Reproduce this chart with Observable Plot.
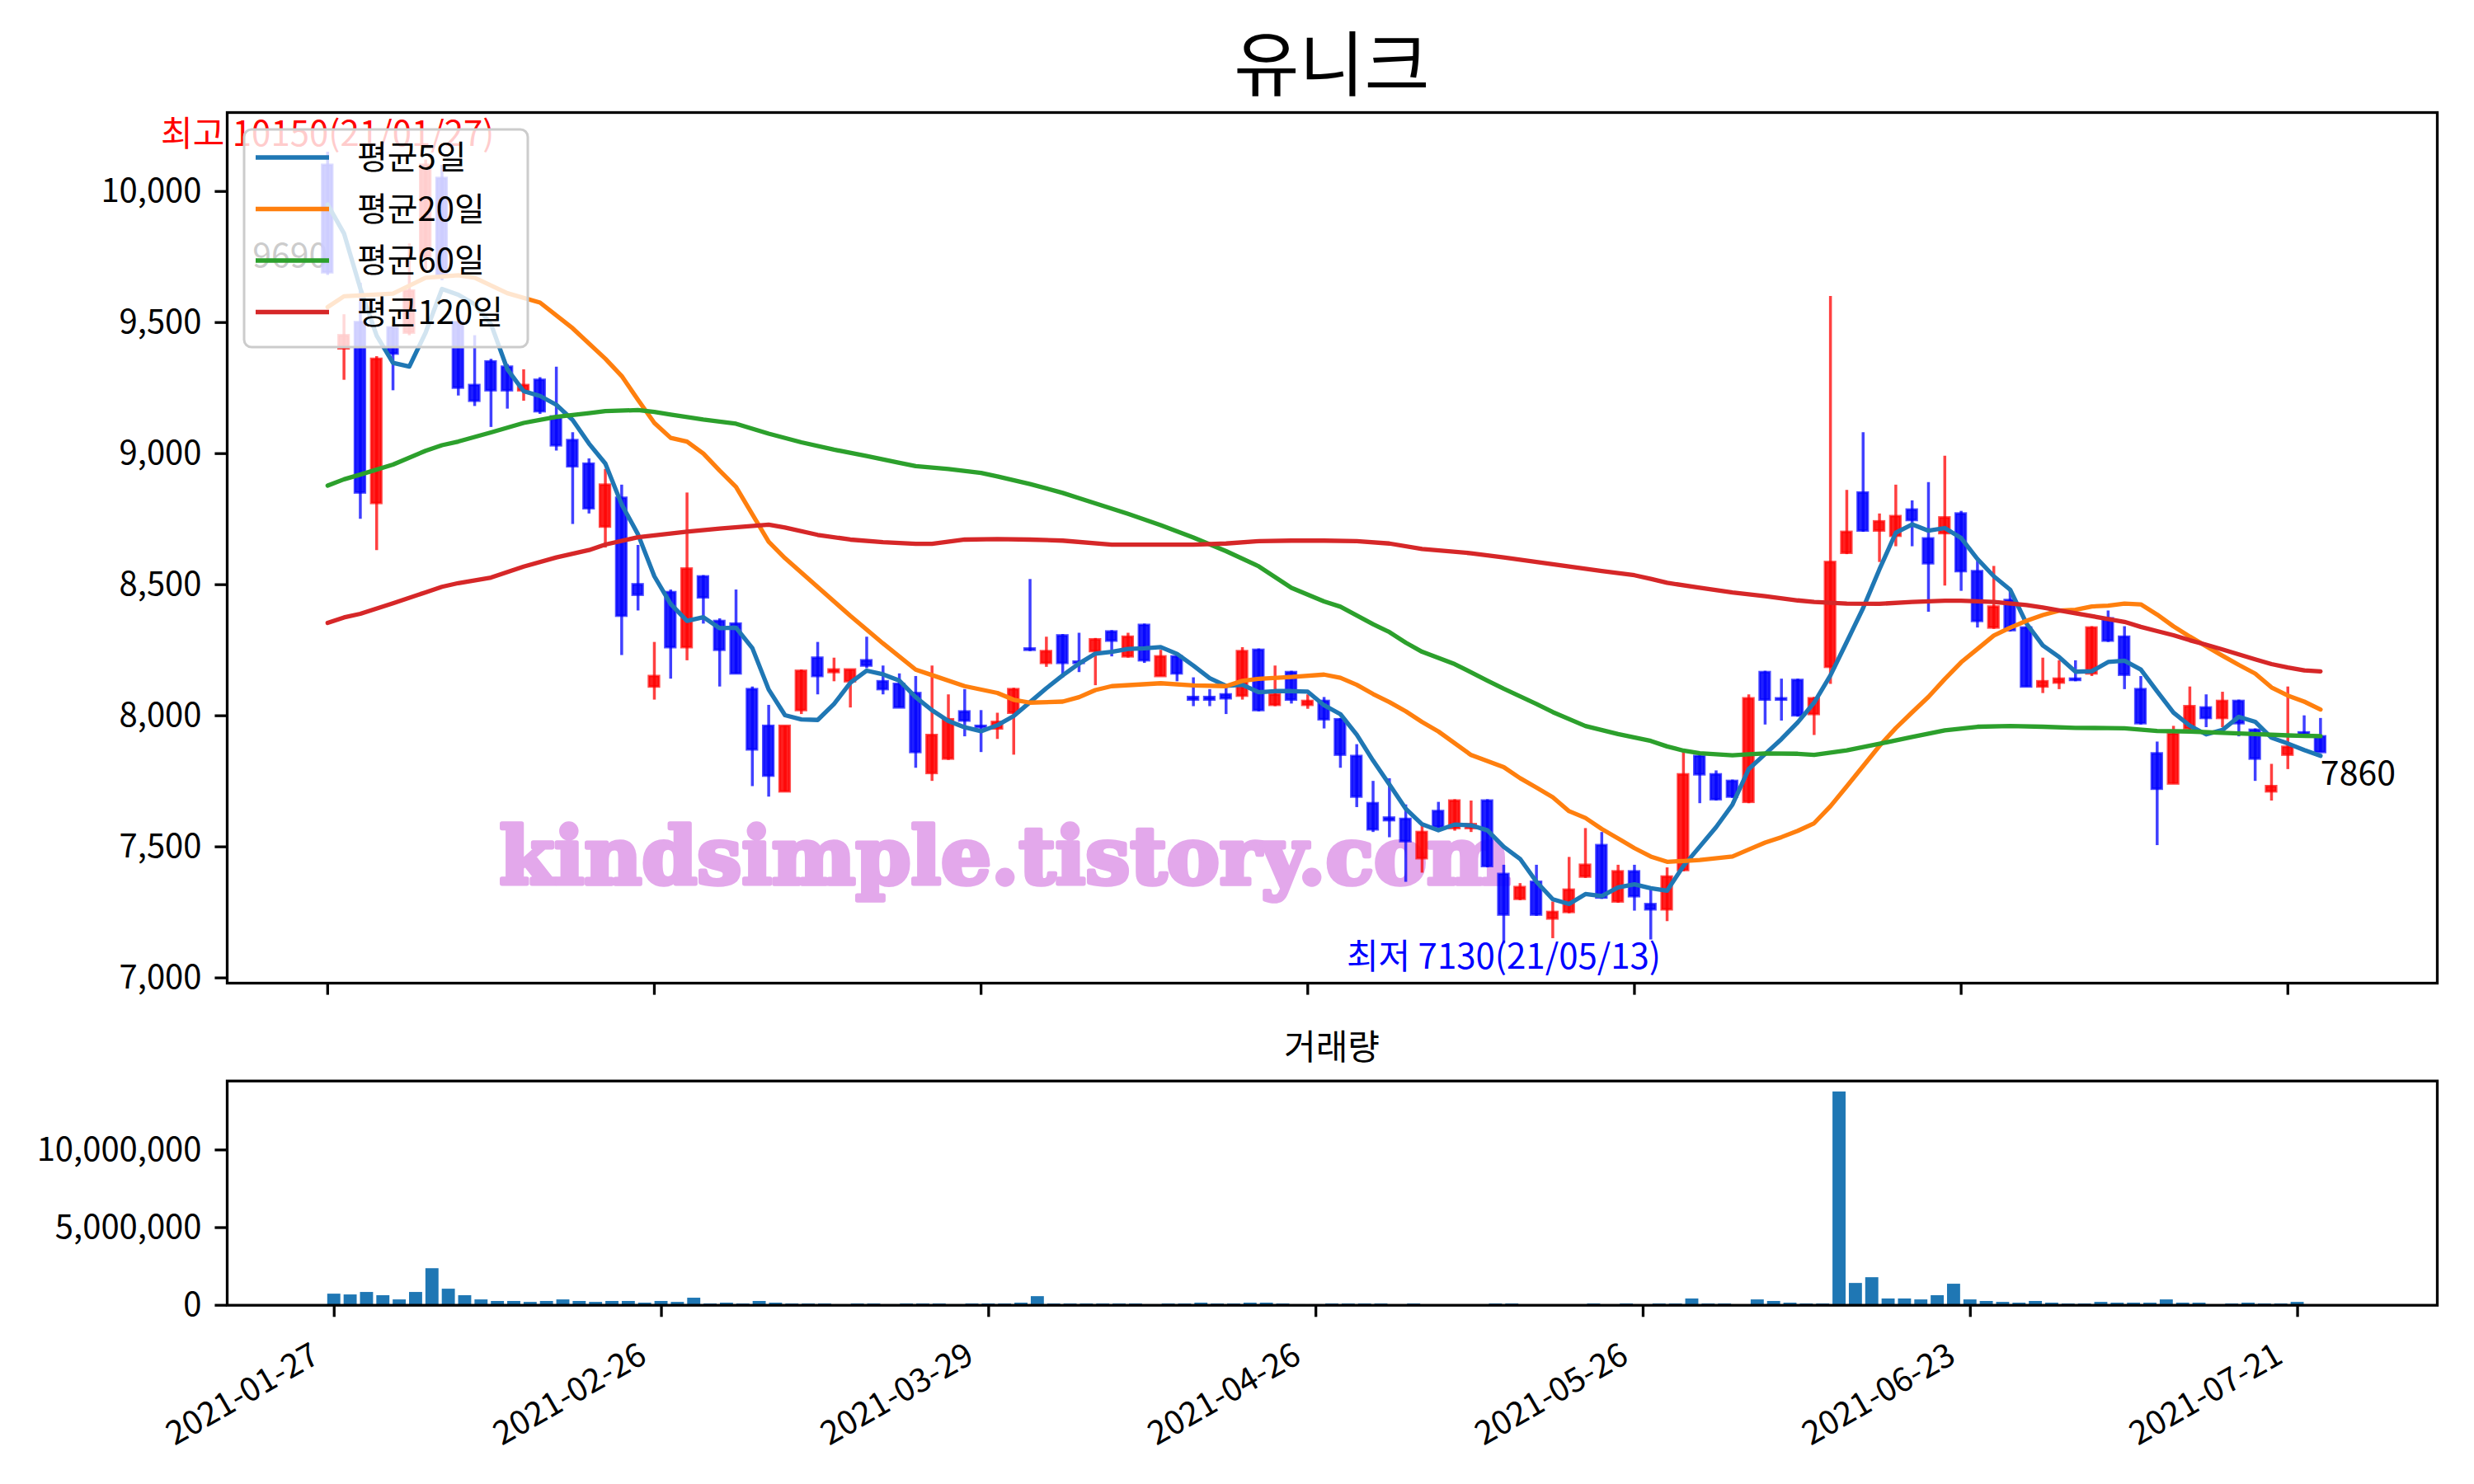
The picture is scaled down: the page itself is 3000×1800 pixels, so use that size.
<!DOCTYPE html>
<html>
<head>
<meta charset="utf-8">
<script src="https://cdn.jsdelivr.net/npm/d3@7"></script>
<script src="https://cdn.jsdelivr.net/npm/@observablehq/plot@0.6"></script>
<style>
  html, body { margin: 0; padding: 0; background: #ffffff; }
  #wrap { position: relative; width: 3000px; height: 1800px; background: #ffffff; overflow: hidden;
          font-family: 'Noto Sans CJK KR', 'Noto Sans', sans-serif; }
  .abs { position: absolute; }
  #title { left: 275px; width: 2680px; top: 30px; text-align: center; font-size: 86px; line-height: 1; color: #000; }
  #voltitle { left: 275px; width: 2680px; top: 1246px; text-align: center; font-size: 42px; line-height: 1; color: #000; }
</style>
</head>
<body>
<div id="wrap">
  <div id="title" class="abs">유니크</div>
  <div id="main" class="abs" style="left:0;top:0;"></div>
  <div id="voltitle" class="abs">거래량</div>
  <div id="vol" class="abs" style="left:0;top:1250px;"></div>
</div>
<script>
// ---------------- data ----------------
const tickIdx = [0, 20, 40, 60, 80, 100, 120];
const tickLabels = ["2021-01-27", "2021-02-26", "2021-03-29", "2021-04-26", "2021-05-26", "2021-06-23", "2021-07-21"];
const priceTicks = [7000, 7500, 8000, 8500, 9000, 9500, 10000];
const volumeTicks = [0, 5000000, 10000000];

const opens = [10100,9400,9500,8810,9480,9460,9750,10050,9500,9260,9350,9330,9240,9280,9140,9050,8960,8720,8830,8500,
  8110,8470,8260,8530,8360,8350,8100,7960,7710,8020,8220,8165,8130,8210,8130,8120,8085,7780,7835,8015,
  7960,7950,8010,8255,8200,8305,8205,8245,8320,8225,8345,8150,8225,8070,8070,8080,8075,8250,8040,8165,
  8040,8055,7985,7845,7665,7610,7605,7455,7635,7570,7570,7675,7395,7300,7365,7225,7250,7385,7505,7290,
  7405,7280,7260,7410,7845,7775,7750,7670,8165,8065,8135,8005,8185,8620,8850,8705,8685,8785,8675,8695,
  8770,8550,8335,8440,8335,8110,8125,8140,8160,8370,8300,8100,7855,7740,7950,8030,7990,8055,7945,7710,
  7850,7935,7920];
const highs = [10150,9530,9650,9370,9490,9800,10120,10100,9530,9450,9360,9340,9320,9290,9330,9080,8980,8940,8880,8650,
  8280,8480,8850,8535,8370,8480,8110,8040,7960,8175,8280,8220,8175,8300,8190,8160,8150,8190,8080,8100,
  8020,8010,8105,8520,8300,8310,8315,8295,8325,8315,8350,8250,8230,8145,8100,8110,8260,8255,8190,8170,
  8080,8070,7990,7890,7750,7760,7660,7580,7670,7680,7675,7680,7430,7360,7430,7290,7460,7570,7555,7430,
  7430,7340,7420,7860,7850,7790,7755,8080,8170,8140,8140,8070,9600,8860,9080,8770,8880,8820,8890,8990,
  8780,8590,8570,8475,8340,8220,8210,8210,8340,8400,8340,8150,7900,7960,8110,8080,8090,8060,7950,7815,
  8110,8000,7990];
const lows = [9680,9280,8750,8630,9240,9450,9700,9660,9220,9180,9100,9170,9200,9150,9010,8730,8770,8640,8230,8400,
  8060,8140,8210,8350,8110,8160,7730,7690,7710,8005,8080,8130,8030,8180,8080,8030,7800,7750,7830,7920,
  7860,7910,7850,8245,8185,8145,8165,8115,8225,8220,8200,8150,8130,8035,8035,8005,8060,8015,8035,8045,
  8025,7950,7800,7650,7555,7535,7365,7400,7570,7560,7555,7420,7130,7295,7235,7150,7245,7380,7300,7285,
  7255,7145,7215,7405,7665,7675,7685,7665,7965,7980,7995,7925,8120,8615,8700,8585,8645,8645,8395,8495,
  8475,8335,8330,8320,8110,8085,8100,8130,8150,8280,8100,7965,7505,7740,7945,7955,7955,7920,7750,7675,
  7795,7925,7860];
const closes = [9690,9450,8850,9360,9380,9620,10100,9680,9250,9200,9240,9240,9260,9160,9030,8950,8790,8880,8380,8460,
  8150,8260,8560,8450,8250,8160,7870,7770,7960,8170,8150,8175,8175,8190,8100,8030,7860,7925,7985,7980,
  7955,7975,8100,8250,8245,8200,8200,8290,8285,8300,8210,8225,8160,8060,8060,8065,8245,8020,8080,8060,
  8055,7985,7850,7690,7565,7600,7520,7555,7575,7675,7585,7425,7240,7345,7240,7250,7335,7430,7305,7405,
  7310,7260,7385,7775,7775,7680,7690,8065,8060,8060,8000,8065,8585,8700,8705,8740,8760,8745,8580,8755,
  8550,8360,8415,8325,8110,8130,8140,8135,8335,8285,8155,7970,7720,7930,8035,7990,8055,7970,7835,7730,
  7880,7930,7860];
const volumes = [720000,670000,830000,620000,350000,830000,2360000,1040000,620000,350000,250000,250000,190000,250000,350000,250000,190000,250000,250000,140000,
  250000,190000,460000,90000,140000,90000,250000,140000,90000,90000,90000,40000,90000,90000,40000,90000,90000,90000,40000,90000,
  90000,90000,140000,560000,90000,90000,90000,90000,90000,90000,40000,90000,90000,140000,90000,90000,140000,140000,90000,40000,
  40000,90000,90000,90000,90000,30000,90000,30000,30000,30000,30000,90000,90000,30000,30000,30000,30000,90000,30000,90000,
  30000,90000,90000,410000,90000,90000,30000,350000,250000,140000,90000,90000,13740000,1410000,1780000,410000,410000,350000,620000,1360000,
  350000,250000,190000,140000,250000,140000,90000,90000,190000,140000,140000,140000,350000,140000,140000,30000,90000,140000,90000,90000,
  190000,0,0];

const ma5 = [9950,9840,9630,9450,9346,9332,9462,9628,9606,9570,9494,9322,9238,9220,9186,9128,9038,8962,8806,8692,
  8532,8426,8362,8376,8334,8336,8258,8100,8002,7986,7984,8045,8126,8172,8158,8134,8071,8021,7980,7956,
  7941,7964,7999,8052,8105,8154,8199,8237,8244,8255,8257,8262,8236,8191,8143,8114,8118,8090,8094,8094,
  8092,8040,8006,7928,7829,7738,7645,7586,7563,7585,7582,7563,7500,7454,7367,7300,7282,7320,7312,7345,
  7357,7342,7333,7427,7501,7575,7661,7797,7854,7911,7975,8050,8154,8282,8411,8559,8698,8730,8706,8716,
  8678,8598,8532,8481,8352,8268,8224,8168,8170,8205,8210,8176,8093,8012,7962,7929,7946,7996,7977,7916,
  7894,7869,7847];
const ma20 = [[0,9559],[1,9600],[4,9610],[6,9671],[8,9680],[9,9671],[11,9612],[13,9576],[15,9478],[17,9362],[18,9296],[19,9205],
  [20,9117],[21,9060],[22,9046],[23,9000],[24,8935],[25,8873],[27,8664],[28,8601],[30,8491],[32,8381],[34,8276],[36,8176],
  [37,8155],[39,8113],[41,8087],[42,8061],[43,8050],[45,8054],[46,8071],[47,8098],[48,8113],[51,8124],[53,8116],[55,8113],
  [56,8133],[57,8141],[59,8148],[61,8157],[62,8145],[63,8118],[64,8083],[65,8052],[66,8017],[67,7976],[68,7940],[70,7850],
  [72,7804],[73,7762],[74,7726],[75,7689],[76,7636],[77,7610],[78,7568],[79,7532],[80,7495],[81,7463],[82,7443],[83,7446],
  [84,7450],[86,7463],[87,7490],[88,7516],[89,7537],[90,7561],[91,7590],[92,7655],[93,7731],[94,7808],[95,7885],[96,7953],
  [97,8013],[98,8072],[99,8140],[100,8204],[101,8255],[102,8306],[103,8336],[104,8362],[105,8384],[106,8401],[107,8404],
  [108,8417],[109,8420],[110,8428],[111,8425],[112,8386],[113,8341],[114,8302],[115,8265],[116,8229],[117,8194],[118,8161],
  [119,8108],[120,8077],[121,8054],[122,8024]];
const ma60 = [[0,8878],[1,8902],[2,8920],[4,8958],[6,9011],[7,9032],[8,9046],[10,9081],[12,9117],[14,9140],[16,9154],[17,9162],
  [19,9166],[20,9159],[21,9149],[23,9130],[25,9114],[27,9076],[29,9043],[31,9015],[33,8991],[35,8965],[36,8952],[38,8941],
  [40,8926],[41,8913],[43,8884],[45,8850],[46,8830],[49,8770],[51,8727],[53,8680],[55,8628],[57,8570],[59,8488],[61,8436],
  [62,8416],[64,8349],[65,8319],[66,8279],[67,8244],[69,8197],[71,8134],[72,8103],[74,8045],[75,8014],[77,7961],[79,7930],
  [81,7904],[82,7883],[83,7867],[84,7857],[86,7849],[87,7853],[88,7856],[90,7855],[91,7851],[93,7868],[95,7893],[97,7919],
  [99,7944],[101,7958],[103,7961],[105,7958],[107,7954],[109,7953],[110,7952],[112,7942],[114,7940],[116,7935],[118,7930],
  [120,7925],[122,7922]];
const ma120 = [[0,8354],[1,8375],[2,8389],[4,8429],[6,8471],[7,8492],[8,8506],[10,8527],[12,8569],[14,8604],[16,8632],[17,8653],
  [19,8681],[21,8695],[22,8702],[24,8714],[27,8729],[28,8718],[30,8690],[32,8672],[34,8662],[36,8656],[37,8656],[39,8672],
  [41,8674],[43,8672],[45,8668],[48,8653],[51,8653],[53,8653],[55,8657],[57,8666],[59,8668],[61,8668],[63,8666],[65,8657],
  [67,8636],[70,8620],[72,8604],[74,8587],[76,8569],[78,8552],[80,8536],[81,8522],[82,8507],[84,8488],[86,8470],[88,8456],
  [90,8440],[91,8434],[93,8428],[95,8427],[97,8434],[99,8439],[100,8439],[102,8434],[104,8422],[105,8413],[107,8391],[109,8369],
  [110,8358],[111,8339],[112,8323],[113,8307],[114,8288],[115,8271],[116,8253],[117,8234],[118,8215],[119,8197],[120,8184],
  [121,8173],[122,8169]];

const legendLabels = ["평균5일", "평균20일", "평균60일", "평균120일"];
const legendColors = ["#1f77b4", "#ff7f0e", "#2ca02c", "#d62728"];

const highNote = [{i: 0, p: 10150, text: "최고 10150(21/01/27)"}];
const lowNote = [{i: 72, p: 7130, text: "최저 7130(21/05/13)"}];
const lastNote = [{i: 122, p: 7860, text: "7860"}];
const firstNote = [{i: 0, p: 9690, text: "9690"}];
const watermark = ["kindsimple.tistory.com"];

// ---------------- build ----------------
const FONT = "'Noto Sans CJK KR', 'Noto Sans', sans-serif";
const UP = "#ff0000", DOWN = "#0000ff";
const candles = closes.map((c, i) => ({i, o: opens[i], h: highs[i], l: lows[i], c}));
const ups = candles.filter(d => d.c >= d.o);
const downs = candles.filter(d => d.c < d.o);
const ma5pts = ma5.map((v, i) => [i, v]);
const vols = volumes.map((v, i) => ({i, v}));
const SPINE = 3.3, TICK = 14.6;

const bodyW = 0.31;
function candleMarks(data, col) {
  return [
    Plot.ruleX(data, {x: "i", y1: "l", y2: "h", stroke: col, strokeOpacity: 0.75, strokeWidth: 3.5}),
    Plot.rect(data, {x1: d => d.i - bodyW, x2: d => d.i + bodyW, y1: "o", y2: "c",
      fill: col, fillOpacity: 0.88, stroke: col, strokeOpacity: 0.7, strokeWidth: 3})
  ];
}
const lineOpt = (col) => ({x: d => d[0], y: d => d[1], stroke: col, strokeWidth: 5.3, strokeLinejoin: "round"});

const mainW = 3000, mainH = 1250;
const mL = 275, mR = 45, mT = 136, mB = 58;
const mainPlot = Plot.plot({
  width: mainW, height: mainH,
  marginLeft: mL, marginRight: mR, marginTop: mT, marginBottom: mB,
  x: {domain: [-6.15, 129.15]},
  y: {domain: [6980, 10301]},
  style: {fontFamily: FONT, fontSize: "40px", background: "transparent", color: "black", overflow: "visible"},
  marks: [
    Plot.text(watermark, {text: d => d, frameAnchor: "middle", dx: -397, dy: 377, fontSize: 96,
      fontFamily: "'DejaVu Serif', serif", fontWeight: "bold", fill: "#e3a8eb",
      stroke: "#e3a8eb", strokeWidth: 5.5, strokeLinejoin: "round"}),
    Plot.text(firstNote, {x: "i", y: "p", text: "text", textAnchor: "end", lineAnchor: "bottom", fill: "black", fontSize: 41, dy: -7}),
    Plot.text(highNote, {x: "i", y: "p", text: "text", textAnchor: "middle", lineAnchor: "bottom", fill: "red", fontSize: 42, dy: -8}),
    ...candleMarks(ups, UP),
    ...candleMarks(downs, DOWN),
    Plot.line(ma5pts, lineOpt(legendColors[0])),
    Plot.line(ma20, lineOpt(legendColors[1])),
    Plot.line(ma60, lineOpt(legendColors[2])),
    Plot.line(ma120, lineOpt(legendColors[3])),
    Plot.text(lowNote, {x: "i", y: "p", text: "text", textAnchor: "middle", lineAnchor: "top", fill: "blue", fontSize: 42}),
    Plot.text(lastNote, {x: "i", y: "p", text: "text", textAnchor: "start", lineAnchor: "top", fill: "black", fontSize: 41, dy: 10}),
    Plot.axisY({ticks: priceTicks, tickFormat: d3.format(","), tickSize: TICK, tickPadding: 16.4,
      strokeWidth: SPINE, fontSize: 40, label: null}),
    Plot.axisX({ticks: tickIdx, tickFormat: () => "", tickSize: TICK, strokeWidth: SPINE, label: null}),
    Plot.frame({stroke: "black", strokeWidth: SPINE})
  ]
});
document.getElementById("main").appendChild(mainPlot);

// legend (drawn over the plot with translucent white box, like matplotlib)
{
  const svg = d3.select(mainPlot);
  const pad = 21;
  const bx = mL + pad, by = mT + pad, bw = 344, bh = 264;
  const g = svg.append("g").attr("font-family", FONT);
  g.append("rect").attr("x", bx).attr("y", by).attr("width", bw).attr("height", bh)
    .attr("rx", 9).attr("fill", "white").attr("fill-opacity", 0.8)
    .attr("stroke", "#cccccc").attr("stroke-width", 3);
  legendLabels.forEach((lab, k) => {
    const yy = by + 34 + k * 62.5;
    g.append("line").attr("x1", bx + 14).attr("x2", bx + 103).attr("y1", yy).attr("y2", yy)
      .attr("stroke", legendColors[k]).attr("stroke-width", 5.3);
    g.append("text").attr("x", bx + 137).attr("y", yy).attr("dy", "0.36em")
      .attr("text-anchor", "start").attr("font-size", 40).attr("fill", "black").text(lab);
  });
}

// volume chart
const volPlot = Plot.plot({
  width: 3000, height: 550,
  marginLeft: mL, marginRight: mR, marginTop: 60.7, marginBottom: 217.3,
  x: {domain: [-6.54, 128.54]},
  y: {domain: [0, 14.44e6]},
  style: {fontFamily: FONT, fontSize: "40px", background: "transparent", color: "black", overflow: "visible"},
  marks: [
    Plot.rect(vols, {x1: d => d.i - 0.4, x2: d => d.i + 0.4, y1: 0, y2: "v", fill: "#1f77b4"}),
    Plot.axisY({ticks: volumeTicks, tickFormat: d3.format(","), tickSize: TICK, tickPadding: 16.4,
      strokeWidth: SPINE, fontSize: 40, label: null}),
    Plot.axisX({ticks: tickIdx, tickFormat: () => "", tickSize: TICK, strokeWidth: SPINE, label: null}),
    Plot.axisX({ticks: tickIdx, tickFormat: d => tickLabels[tickIdx.indexOf(d)], tickRotate: -30,
      tickSize: 0, tickPadding: 57, dx: -22, fontSize: 40, label: null}),
    Plot.frame({stroke: "black", strokeWidth: SPINE})
  ]
});
document.getElementById("vol").appendChild(volPlot);
</script>
</body>
</html>
